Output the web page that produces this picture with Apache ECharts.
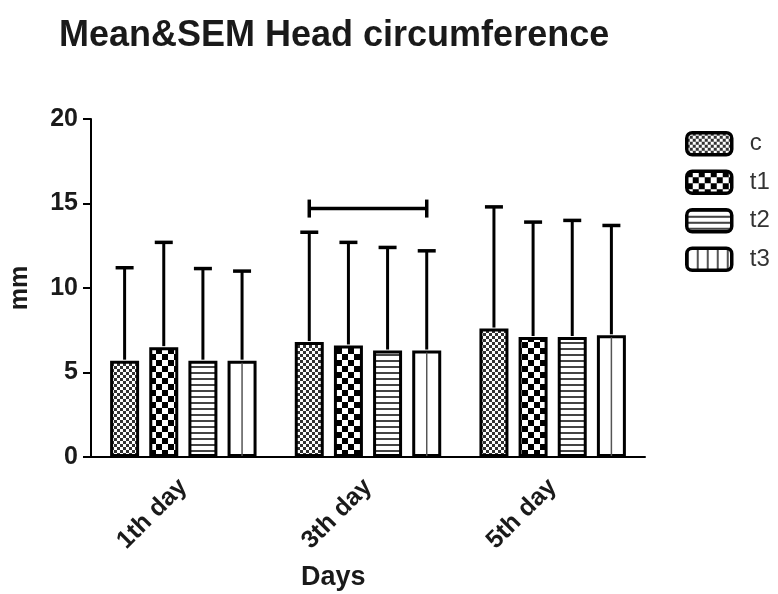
<!DOCTYPE html>
<html>
<head>
<meta charset="utf-8">
<script src="https://cdn.jsdelivr.net/npm/echarts@6/dist/echarts.min.js"></script>
<style>
  html, body { margin: 0; padding: 0; background: #fff; }
  #chart { width: 778px; height: 594px; }
</style>
</head>
<body>
<div id="chart"></div>
<script>
// 数据
const days = ['1th day', '3th day', '5th day']
const groupNames = ['c', 't1', 't2', 't3']
const cMean = [5.7, 6.8, 7.6]
const cSem = [5.5, 6.5, 7.2]
const t1Mean = [6.5, 6.6, 7.1]
const t1Sem = [6.2, 6.1, 6.8]
const t2Mean = [5.7, 6.3, 7.1]
const t2Sem = [5.45, 6.1, 6.9]
const t3Mean = [5.7, 6.3, 7.2]
const t3Sem = [5.3, 5.9, 6.5]
const yTicks = [0, 5, 10, 15, 20]
// 显著性括号: [类别, 起始组, 结束组, 高度]
const bracket = [[1, 0, 3, 14.7]]

const means = [cMean, t1Mean, t2Mean, t3Mean]
const sems = [cSem, t1Sem, t2Sem, t3Sem]

const BAR_W = 29
const GAP_RATIO = 0.35
const STEP = BAR_W * (1 + GAP_RATIO)
const FONT = 'Liberation Sans, Arial, sans-serif'
const INK = '#1a1a1a'

// 填充图案
function makePattern(w, h, draw) {
  const cv = document.createElement('canvas')
  cv.width = w
  cv.height = h
  const g = cv.getContext('2d')
  g.fillStyle = '#fff'
  g.fillRect(0, 0, w, h)
  draw(g)
  return { image: cv, repeat: 'repeat' }
}
const patFine = makePattern(6, 6, g => {
  g.fillStyle = '#333'
  g.fillRect(0, 0, 3, 3)
  g.fillRect(3, 3, 3, 3)
})
const patChecker = makePattern(12, 12, g => {
  g.fillStyle = '#000'
  g.fillRect(0, 0, 6, 6)
  g.fillRect(6, 6, 6, 6)
})
const patHoriz = makePattern(4, 6, g => {
  g.fillStyle = '#444'
  g.fillRect(0, 0, 4, 2)
})
const patVert = makePattern(10, 4, g => {
  g.fillStyle = '#555'
  g.fillRect(0, 0, 2, 4)
})
const fills = [patFine, patChecker, patHoriz, '#fff']
const legendFills = [patFine, patChecker, patHoriz, patVert]

const barSeries = groupNames.map((name, i) => ({
  name,
  type: 'bar',
  barWidth: BAR_W,
  barGap: (GAP_RATIO * 100) + '%',
  data: means[i],
  itemStyle: { color: fills[i], borderColor: '#000', borderWidth: 3 },
  emphasis: { disabled: true }
}))

const errData = []
groupNames.forEach((_, s) => {
  days.forEach((_, c) => {
    errData.push([c, s, means[s][c], means[s][c] + sems[s][c]])
  })
})

const chart = echarts.init(document.getElementById('chart'))
chart.setOption({
  backgroundColor: '#fff',
  animation: false,
  title: {
    text: 'Mean&SEM Head circumference',
    left: 54,
    top: 13,
    textStyle: { fontFamily: FONT, fontSize: 36, fontWeight: 'bold', color: INK }
  },
  legend: {
    orient: 'vertical',
    left: 685,
    top: 131,
    padding: 0,
    itemWidth: 45,
    itemHeight: 22,
    itemGap: 13,
    textStyle: { fontFamily: FONT, fontSize: 24, lineHeight: 22, color: '#333', padding: [0, 0, 0, 13] },
    data: groupNames.map((name, i) => ({
      name,
      icon: 'roundRect',
      itemStyle: { color: legendFills[i], borderColor: '#000', borderWidth: 3.5 }
    }))
  },
  grid: { left: 91, right: 133, top: 119, bottom: 137, outerBoundsMode: 'none', containLabel: false },
  xAxis: {
    type: 'category',
    data: days,
    axisLine: { lineStyle: { color: '#000', width: 2 } },
    axisTick: { alignWithLabel: true, length: 8, lineStyle: { color: '#000', width: 2 } },
    axisLabel: {
      rotate: 45, margin: 26,
      fontFamily: FONT, fontSize: 25, fontWeight: 'bold', color: INK
    }
  },
  yAxis: {
    type: 'value',
    min: yTicks[0],
    max: yTicks[yTicks.length - 1],
    interval: 5,
    name: 'mm',
    nameLocation: 'middle',
    nameGap: 58,
    nameRotate: 90,
    nameTextStyle: { fontFamily: FONT, fontSize: 25, fontWeight: 'bold', color: INK },
    axisLine: { show: true, lineStyle: { color: '#000', width: 2 } },
    axisTick: { show: true, length: 8, lineStyle: { color: '#000', width: 2 } },
    splitLine: { show: false },
    axisLabel: { margin: 13, fontFamily: FONT, fontSize: 25, fontWeight: 'bold', color: INK }
  },
  graphic: [{
    type: 'text',
    left: 301,
    top: 564,
    style: { text: 'Days', fontFamily: FONT, fontSize: 27, fontWeight: 'bold', fill: INK }
  }],
  series: [
    ...barSeries,
    {
      // 误差线
      type: 'custom',
      silent: true,
      z: 5,
      data: errData,
      renderItem(params, api) {
        const c = api.value(0)
        const s = api.value(1)
        const base = api.coord([c, api.value(2)])
        const top = api.coord([c, api.value(3)])
        const zero = api.coord([c, 0])
        const x = base[0] + (s - 1.5) * STEP
        const children = [
          { type: 'line', shape: { x1: x, y1: base[1] - 1, x2: x, y2: top[1] }, style: { stroke: '#000', lineWidth: 3 } },
          { type: 'line', shape: { x1: x - 9, y1: top[1], x2: x + 9, y2: top[1] }, style: { stroke: '#000', lineWidth: 3.5 } }
        ]
        if (s === 3) {
          children.push({ type: 'line', shape: { x1: x, y1: zero[1] - 1, x2: x, y2: base[1] + 2 }, style: { stroke: '#555', lineWidth: 1.5 } })
        }
        return { type: 'group', children }
      }
    },
    {
      // 显著性括号
      type: 'custom',
      silent: true,
      z: 5,
      data: bracket,
      renderItem(params, api) {
        const c = api.value(0)
        const p = api.coord([c, api.value(3)])
        const x1 = p[0] + (api.value(1) - 1.5) * STEP
        const x2 = p[0] + (api.value(2) - 1.5) * STEP
        const st = { stroke: '#000', lineWidth: 3.5 }
        return {
          type: 'group',
          children: [
            { type: 'line', shape: { x1, y1: p[1], x2, y2: p[1] }, style: st },
            { type: 'line', shape: { x1, y1: p[1] - 9, x2: x1, y2: p[1] + 9 }, style: st },
            { type: 'line', shape: { x1: x2, y1: p[1] - 9, x2, y2: p[1] + 9 }, style: st }
          ]
        }
      }
    }
  ]
})
</script>
</body>
</html>
